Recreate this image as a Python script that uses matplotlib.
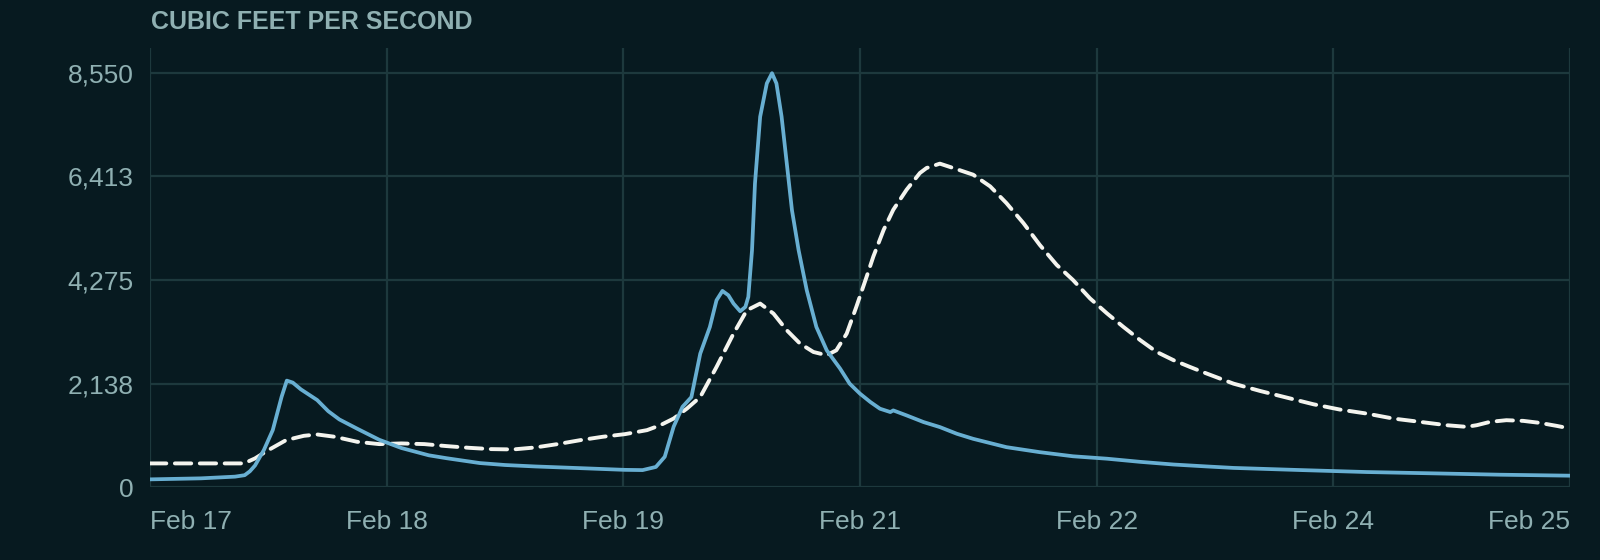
import matplotlib
matplotlib.use("Agg")
import matplotlib.pyplot as plt

# hours since the start of Feb 17
solid_hours = [0, 6.9, 11.5, 12.8, 13.5, 14.2, 15.4, 16.6, 17.8, 18.5, 19.3, 20.4,
               21.8, 22.6, 24.1, 25.6, 28, 31, 34, 37.7, 40.1, 44.6, 48, 52.1, 58.2,
               64.2, 66.6, 68.4, 69.6, 70.8, 72, 73.2, 74.4, 75.7, 76.6, 77.4, 78.2,
               78.9, 79.8, 80.5, 80.9, 81.4, 81.8, 82.5, 83.4, 84.1, 84.7, 85.4, 86.1,
               86.8, 87.7, 88.8, 90.1, 91.5, 93.3, 94.6, 96, 97.4, 98.7, 100.1, 100.5,
               102.3, 104.6, 106.8, 109.1, 111.3, 115.8, 120.3, 124.8, 129.4, 133.9,
               138.4, 142.9, 146.5, 155.5, 164.5, 173.5, 182.5, 192]
solid_cfs = [164, 185, 220, 250, 330, 450, 770, 1180, 1870, 2200, 2160, 2020,
             1880, 1800, 1570, 1400, 1210, 980, 810, 660, 600, 500, 460, 430, 395,
             360, 355, 420, 630, 1250, 1660, 1860, 2757, 3307, 3858, 4050, 3961,
             3789, 3631, 3720, 3927, 4890, 6266, 7642, 8330, 8540, 8330, 7642, 6679,
             5715, 4890, 4064, 3307, 2826, 2450, 2138, 1931, 1759, 1621, 1552, 1586,
             1483, 1345, 1242, 1104, 1000, 828, 725, 640, 590, 525,
             470, 430, 400, 356, 315, 288, 260, 240]

dashed_hours = [0, 12.7, 14.2, 16, 18.4, 20.8, 22.6, 25, 28, 31, 34, 37.1, 40.1,
                43.1, 46.1, 49.1, 52.1, 55.1, 58.2, 61.2, 64.2, 67.2, 69, 70.8, 72.6,
                74.4, 76.6, 78.9, 80.7, 82.5, 84.3, 86.1, 87.9, 89.7, 91.5, 92.8, 94.2,
                95.5, 96.9, 97.8, 99.2, 100.5, 102.3, 104.1, 105, 106.8, 108.6, 111.3,
                113.6, 115.8, 118.1, 120.3, 122.6, 124.8, 127.1, 129.4, 131.6, 133.9,
                136.1, 138.4, 140.6, 142.9, 146.5, 150.1, 153.7, 157.3, 160.9, 164.5,
                168.1, 171.7, 175.3, 178, 179.4, 181.2, 183.4, 185.7, 187.9, 190.2, 192]
dashed_cfs = [493, 493, 596, 767, 973, 1062, 1090, 1042, 939, 891, 905, 891, 850,
              815, 788, 781, 822, 891, 973, 1042, 1096, 1179, 1281, 1418, 1624,
              1863, 2482, 3170, 3651, 3789, 3583, 3239, 2963, 2791, 2723, 2826, 3170,
              3720, 4345, 4758, 5310, 5724, 6137, 6482, 6585, 6675, 6585, 6447,
              6206, 5861, 5448, 5000, 4586, 4275, 3896, 3586, 3310, 3034,
              2793, 2621, 2483, 2345, 2138, 1987, 1850, 1713, 1603, 1521,
              1418, 1350, 1281, 1247, 1281, 1350, 1384, 1370, 1329, 1267, 1213]

x_ticks = [0, 32, 64, 96, 128, 160, 192]
x_labels = ["Feb 17", "Feb 18", "Feb 19", "Feb 21", "Feb 22", "Feb 24", "Feb 25"]
y_ticks = [0, 2137.5, 4275, 6412.5, 8550]
y_labels = ["0", "2,138", "4,275", "6,413", "8,550"]

bg = "#071a20"
grid_col = "#1d393d"
text_col = "#8fb0b2"

plt.rcParams["font.family"] = ["Liberation Sans", "DejaVu Sans"]

fig = plt.figure(figsize=(16, 5.6), dpi=100, facecolor=bg)
ax = fig.add_axes([0.09375, 0.1298, 0.8875, 0.7845], facecolor=bg)

ax.plot(dashed_hours, dashed_cfs, color="#f4f4ee", lw=2.8,
        dashes=(4.2, 2.2), dash_capstyle="round", solid_joinstyle="round", zorder=3)
ax.plot(solid_hours, solid_cfs, color="#68afd2", lw=2.7,
        solid_joinstyle="round", zorder=4)

ax.set_xlim(0, 192)
ax.set_ylim(0, 9060)
ax.set_xticks(x_ticks)
ax.set_xticklabels(x_labels)
ax.set_yticks(y_ticks)
ax.set_yticklabels(y_labels)

ax.grid(True, color=grid_col, lw=1.6)
ax.set_axisbelow(True)
for s in ax.spines.values():
    s.set_visible(False)

ax.tick_params(axis="both", length=0, labelsize=19, labelcolor=text_col)
ax.tick_params(axis="x", pad=16)
ax.tick_params(axis="y", pad=12)

labels = ax.get_xticklabels()
labels[0].set_horizontalalignment("left")
labels[-1].set_horizontalalignment("right")

fig.text(151 / 1600, 1 - 29 / 560, "CUBIC FEET PER SECOND", color=text_col,
         fontsize=18, fontweight="bold", ha="left", va="baseline")

fig.savefig("out.png", dpi=100, facecolor=bg)
